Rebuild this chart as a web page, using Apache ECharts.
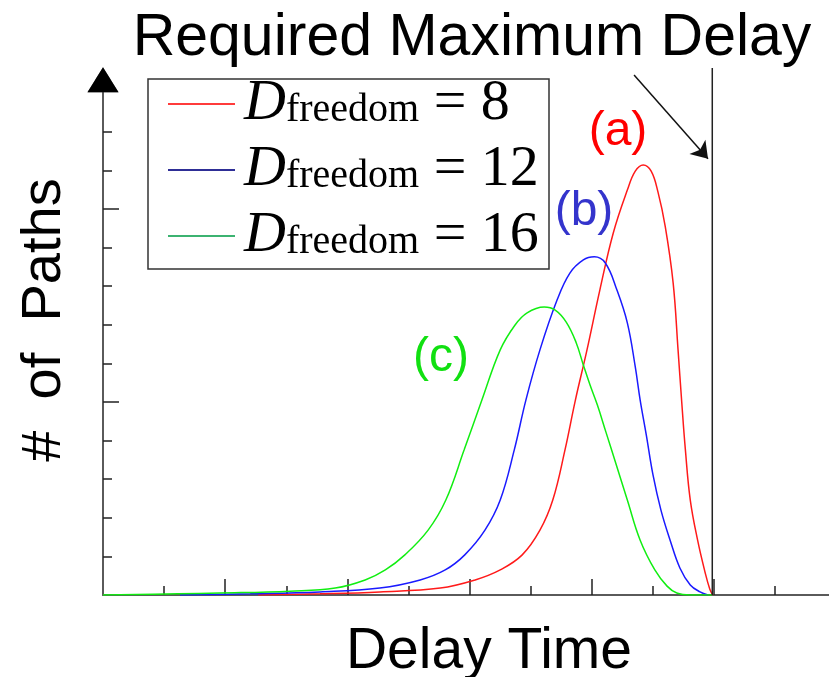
<!DOCTYPE html>
<html><head><meta charset="utf-8">
<script src="https://cdn.jsdelivr.net/npm/echarts@6/dist/echarts.min.js"></script>
<style>html,body{margin:0;padding:0;background:#fff}#c{width:829px;height:677px}</style>
</head><body><div id="c"></div>
<script>
// x in tick units (delay time), y in tick units (# of paths)
const seriesNames = ['8', '12', '16'];
const redPts = [[2.54,0],[3.55,0.03],[4.53,0.08],[5.52,0.18],[6.09,0.39],[6.50,0.65],[6.86,1.04],[7.15,1.68],[7.36,2.46],[7.56,3.76],[7.73,5.05],[7.92,6.35],[8.13,7.90],[8.35,9.38],[8.58,10.49],[8.71,10.98],[8.84,11.14],[8.97,10.98],[9.08,10.45],[9.20,9.55],[9.33,8.08],[9.41,6.35],[9.47,5.0],[9.53,3.76],[9.61,2.46],[9.73,1.42],[9.85,0.6],[9.93,0.15],[9.98,0]];
const bluePts = [[1.26,0],[2.41,0.03],[3.55,0.08],[4.53,0.18],[5.19,0.39],[5.60,0.65],[5.92,1.04],[6.25,1.68],[6.50,2.46],[6.73,3.76],[6.92,5.05],[7.15,6.35],[7.43,7.64],[7.64,8.34],[7.86,8.68],[8.04,8.76],[8.22,8.60],[8.41,7.90],[8.58,7.05],[8.71,5.91],[8.79,5.05],[8.89,4.15],[9.00,3.11],[9.13,2.20],[9.28,1.42],[9.44,0.70],[9.61,0.26],[9.77,0.08],[9.90,0]];
const greenPts = [[0,0],[1.23,0.03],[1.91,0.05],[3.06,0.10],[3.80,0.18],[4.29,0.39],[4.62,0.65],[4.94,1.04],[5.32,1.68],[5.61,2.46],[5.91,3.76],[6.20,5.05],[6.50,6.35],[6.74,6.99],[6.94,7.31],[7.22,7.46],[7.40,7.38],[7.58,7.07],[7.74,6.55],[7.86,5.96],[7.97,5.44],[8.09,4.92],[8.23,4.22],[8.40,3.37],[8.58,2.46],[8.79,1.42],[9.03,0.65],[9.23,0.23],[9.39,0.05],[9.61,0],[9.97,0]];
const requiredMaxDelay = 9.97;
const limitTop = 13.65;
const arrowFrom = [8.69, 13.47];
const arrowTo = [9.90, 11.30];
const xMinorTicks = [1,3,5,7,9,11];
const xMajorTicks = [2,4,6,8,10];
const yMinorTicks = [1,2,3,4,6,7,8,9,11,12];
const yMajorTicks = [5,10];

const chart = echarts.init(document.getElementById('c'), null, {renderer:'canvas'});
const axisGray = '#5a5a5a';
const sans = '"Liberation Sans", Arial, sans-serif';
const serif = '"Liberation Serif", "Times New Roman", serif';

function xAx(ticks, len, showLine) {
  return {type:'value', min:0, max:11.88, position:'bottom',
    axisLine:{show:showLine, onZero:false, lineStyle:{color:axisGray, width:2}},
    axisTick:{show:true, inside:true, length:len, customValues:ticks, lineStyle:{color:'#222', width:1.5}},
    axisLabel:{show:false}, splitLine:{show:false}};
}
function yAx(ticks, len, lineColor, lineWidth) {
  return {type:'value', min:0, max:13.35, position:'left',
    axisLine:{show:true, onZero:false, symbol:['none','triangle'], symbolSize:[31,25], lineStyle:{color:lineColor, width:lineWidth}},
    axisTick:{show:true, inside:true, length:len, customValues:ticks, lineStyle:{color:'#222', width:1.5}},
    axisLabel:{show:false}, splitLine:{show:false}};
}

chart.setOption({
  animation:false,
  backgroundColor:'#fff',
  grid:{left:103, right:0, top:79.7, bottom:82, containLabel:false},
  xAxis:[xAx(xMinorTicks, 9, true), xAx(xMajorTicks, 16, false)],
  yAxis:[yAx(yMinorTicks, 9, axisGray, 2), yAx(yMajorTicks, 16, '#000', 0)],
  legend:{
    orient:'vertical', left:168, top:75, itemGap:8, padding:0,
    itemWidth:67, itemHeight:2, icon:'rect',
    data:[
      {name:seriesNames[0], itemStyle:{color:'#ff3b3b'}},
      {name:seriesNames[1], itemStyle:{color:'#2e2e96'}},
      {name:seriesNames[2], itemStyle:{color:'#3cb371'}}
    ],
    formatter: n => '{d|D}{f|freedom}{e| = ' + n + '}',
    textStyle:{color:'#000', rich:{
      d:{fontFamily:serif, fontStyle:'italic', fontSize:58, lineHeight:58, verticalAlign:'bottom', padding:[0,0,0,4]},
      f:{fontFamily:serif, fontSize:40, lineHeight:40, verticalAlign:'bottom', padding:[0,0,3,0]},
      e:{fontFamily:serif, fontSize:58, lineHeight:58, verticalAlign:'bottom'}
    }}
  },
  graphic:[
    {type:'rect', shape:{x:148, y:79, width:401, height:190}, style:{fill:'#fff', stroke:'#333', lineWidth:1.5}, z:1},
    {type:'text', x:472, y:39, style:{text:'Required Maximum Delay', font:'59px '+sans, fill:'#000', textAlign:'center', textVerticalAlign:'middle'}},
    {type:'text', x:489, y:652, style:{text:'Delay Time', font:'57px '+sans, fill:'#000', textAlign:'center', textVerticalAlign:'middle'}},
    {type:'text', x:45, y:320, rotation:Math.PI/2, style:{text:'#  of  Paths', font:'56px '+sans, fill:'#000', textAlign:'center', textVerticalAlign:'middle'}},
    {type:'text', x:618, y:132, style:{text:'(a)', font:'48px '+sans, fill:'#ff0000', textAlign:'center', textVerticalAlign:'middle'}},
    {type:'text', x:584, y:212, style:{text:'(b)', font:'48px '+sans, fill:'#3434cc', textAlign:'center', textVerticalAlign:'middle'}},
    {type:'text', x:441, y:358, style:{text:'(c)', font:'48px '+sans, fill:'#11e011', textAlign:'center', textVerticalAlign:'middle'}}
  ],
  series:[
    {name:seriesNames[0], type:'line', data:redPts, showSymbol:false, smooth:0.4, lineStyle:{color:'#ff1a1a', width:1.5}, itemStyle:{color:'#ff1a1a'}, z:3},
    {name:seriesNames[1], type:'line', data:bluePts, showSymbol:false, smooth:0.4, lineStyle:{color:'#1a1aff', width:1.5}, itemStyle:{color:'#1a1aff'}, z:3},
    {name:seriesNames[2], type:'line', data:greenPts, showSymbol:false, smooth:0.4, lineStyle:{color:'#11ee11', width:1.5}, itemStyle:{color:'#11ee11'}, z:3},
    {name:'limit', type:'line', data:[[requiredMaxDelay,0],[requiredMaxDelay,limitTop]], clip:false, showSymbol:false, symbol:'none',
      lineStyle:{color:'#222', width:1.5}, z:4, silent:true},
    {name:'arrow', type:'lines', coordinateSystem:'cartesian2d', clip:false, silent:true, z:5,
      symbol:['none','arrow'], symbolSize:[11,16],
      lineStyle:{color:'#111', width:1.5, opacity:1},
      data:[{coords:[arrowFrom, arrowTo]}]}
  ]
});
</script></body></html>
